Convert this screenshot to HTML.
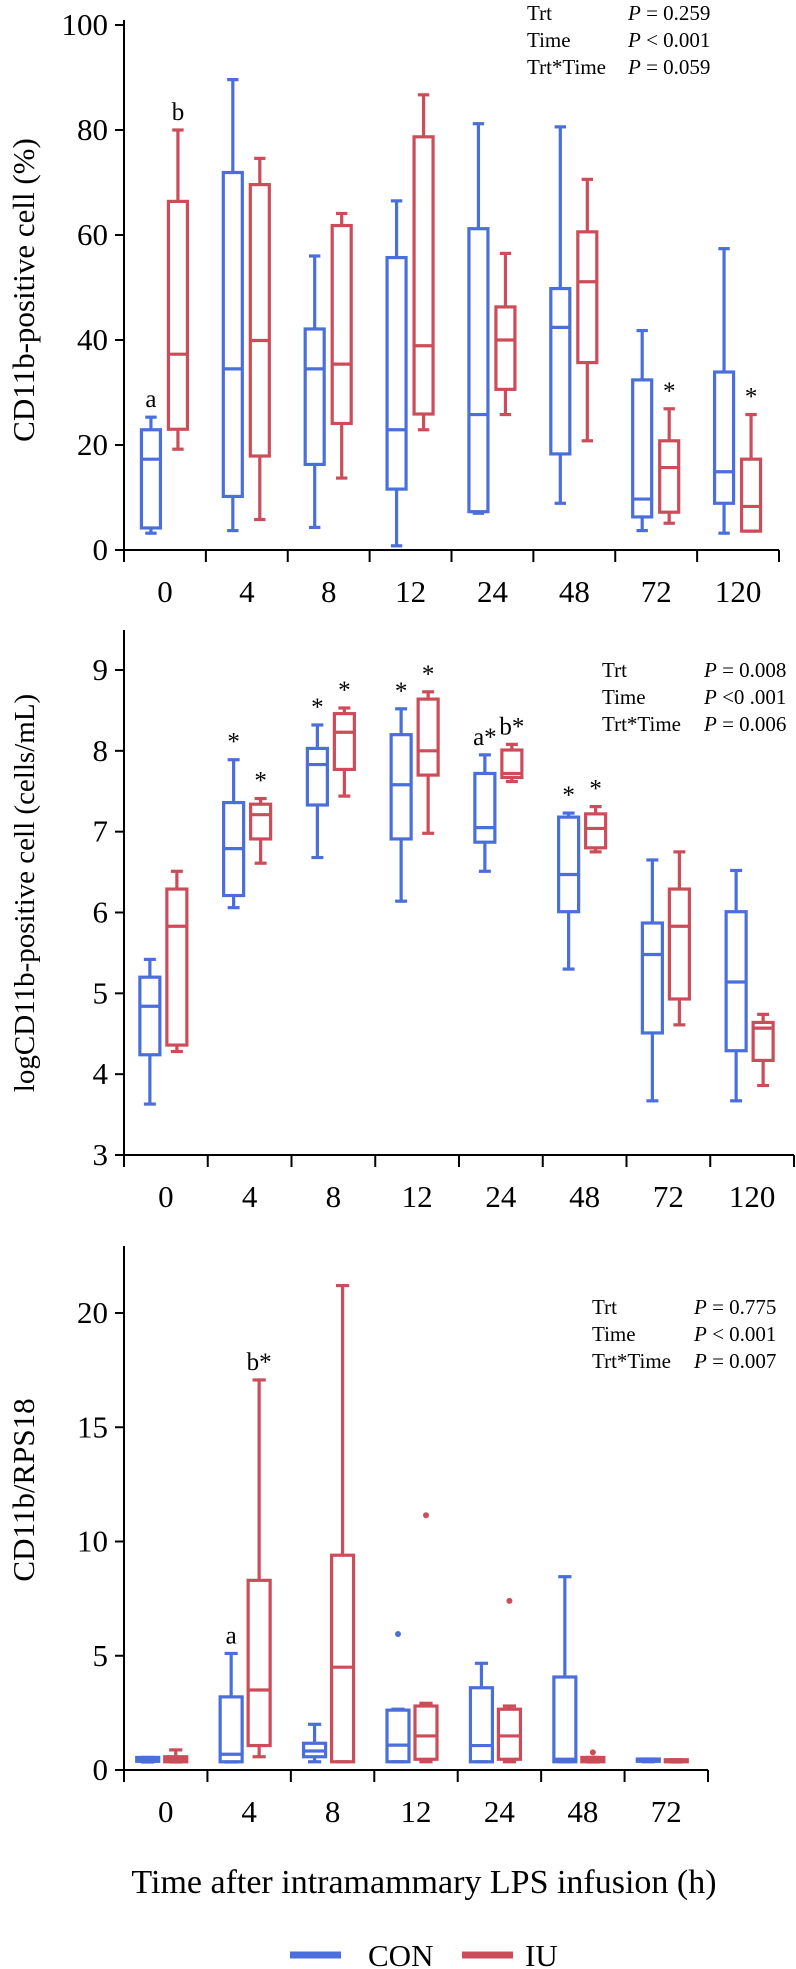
<!DOCTYPE html>
<html><head><meta charset="utf-8">
<style>
html,body{margin:0;padding:0;background:#fff;}
svg{display:block;font-family:"Liberation Serif",serif;}
</style></head>
<body>
<svg id="fig" width="796" height="1969" viewBox="0 0 796 1969" xmlns="http://www.w3.org/2000/svg"></svg>
<script>
// ---------- DATA ----------
const categories1 = ["0","4","8","12","24","48","72","120"];
const yTicks1 = [0,20,40,60,80,100];
// [min, q1, median, q3, max]
const con1 = [[3.2,4.2,17.3,22.9,25.3],[3.7,10.2,34.5,71.9,89.6],[4.3,16.3,34.5,42.1,56],[0.8,11.6,22.9,55.7,66.5],[7.0,7.3,25.8,61.2,81.2],[8.9,18.3,42.4,49.8,80.6],[3.7,6.3,9.7,32.4,41.8],[3.2,8.9,14.9,33.9,57.4]];
const iu1 = [[19.2,23,37.3,66.4,80],[5.8,17.9,39.9,69.6,74.6],[13.7,24.1,35.4,61.8,64.1],[22.9,25.9,38.9,78.7,86.7],[25.8,30.6,40,46.3,56.5],[20.8,35.7,51.1,60.6,70.6],[5.1,7.2,15.7,20.8,26.9],[3.6,3.6,8.3,17.3,25.8]];
const conLabels1 = ["a","","","","","","",""];
const iuLabels1 = ["b","","","","","","*","*"];
const stats1 = [["Trt","P = 0.259"],["Time","P < 0.001"],["Trt*Time","P = 0.059"]];

const categories2 = ["0","4","8","12","24","48","72","120"];
const yTicks2 = [3,4,5,6,7,8,9];
const con2 = [[3.63,4.24,4.84,5.20,5.42],[6.06,6.21,6.79,7.36,7.89],[6.68,7.33,7.83,8.03,8.32],[6.14,6.91,7.58,8.20,8.52],[6.51,6.87,7.05,7.72,7.95],[5.30,6.01,6.47,7.18,7.23],[3.67,4.51,5.48,5.87,6.65],[3.67,4.29,5.14,6.01,6.52]];
const iu2 = [[4.28,4.36,5.83,6.29,6.51],[6.61,6.91,7.21,7.34,7.41],[7.44,7.77,8.23,8.46,8.53],[6.98,7.70,8.0,8.64,8.73],[7.62,7.67,7.72,8.01,8.08],[6.75,6.80,7.04,7.22,7.31],[4.61,4.93,5.83,6.29,6.75],[3.86,4.17,4.57,4.64,4.74]];
const conLabels2 = ["","*","*","*","a*","*","",""];
const iuLabels2 = ["","*","*","*","b*","*","",""];
const stats2 = [["Trt","P = 0.008"],["Time","P <0 .001"],["Trt*Time","P = 0.006"]];

const categories3 = ["0","4","8","12","24","48","72"];
const yTicks3 = [0,5,10,15,20];
const con3 = [[0.35,0.38,0.45,0.55,0.55],[0.35,0.36,0.69,3.2,5.1],[0.36,0.58,0.83,1.17,2.0],[0.36,0.36,1.09,2.62,2.66],[0.36,0.36,1.07,3.6,4.67],[0.36,0.36,0.47,4.07,8.46],[0.36,0.38,0.42,0.48,0.48]];
const iu3 = [[0.35,0.36,0.47,0.58,0.88],[0.58,1.07,3.5,8.3,17.07],[0.36,0.36,4.5,9.4,21.2],[0.36,0.47,1.49,2.8,2.92],[0.36,0.47,1.49,2.66,2.8],[0.35,0.36,0.45,0.55,0.55],[0.35,0.36,0.4,0.45,0.45]];
const conOut3 = [[],[],[],[5.95],[],[],[]];
const iuOut3 = [[],[],[],[11.15],[7.4],[0.77],[]];
const conLabels3 = ["","a","","","","","",""];
const iuLabels3 = ["","b*","","","","","",""];
const stats3 = [["Trt","P = 0.775"],["Time","P < 0.001"],["Trt*Time","P = 0.007"]];

// ---------- DRAW ----------
const NS = "http://www.w3.org/2000/svg";
const svg = document.getElementById("fig");
const BLUE = "#4a6fdc", RED = "#cc4d59";
function mk(tag, attrs, parent){
  const e = document.createElementNS(NS, tag);
  for (const k in attrs) e.setAttribute(k, attrs[k]);
  (parent||svg).appendChild(e);
  return e;
}
function txt(s, attrs, parent){ const e = mk("text", attrs, parent); e.textContent = s; return e; }

function panel(cfg){
  const g = mk("g", {});
  
  
  const n = cfg.cats.length;
  const cw = (cfg.x1 - cfg.x0) / n;
  const yScale = v => cfg.yb - (v - cfg.ymin) * (cfg.yb - cfg.yt) / (cfg.ymax - cfg.ymin);
  const xCenter = i => cfg.x0 + cw * (i + 0.5);
  // axes
  const ya = mk("line", {x1:cfg.x0, y1:cfg.axTop, x2:cfg.x0, y2:cfg.yb, stroke:"#000","stroke-width":2}, g);
  
  
  const xa = mk("line", {x1:cfg.x0-9, y1:cfg.yb, x2:cfg.x1, y2:cfg.yb, stroke:"#000","stroke-width":2}, g);
  
  
  cfg.yticks.forEach(t => {
    const y = yScale(t);
    mk("line", {x1:cfg.x0-9, y1:y, x2:cfg.x0, y2:y, stroke:"#000","stroke-width":2}, g);
    const l = txt(String(t), {x:cfg.x0-16, y:y+10, "font-size":31, "text-anchor":"end", fill:"#000"}, g);
    
    
  });
  for (let i = 0; i <= n; i++){
    const x = cfg.x0 + cw*i;
    mk("line", {x1:x, y1:cfg.yb, x2:x, y2:cfg.yb+12, stroke:"#000","stroke-width":2}, g);
  }
  cfg.cats.forEach((c,i) => {
    const l = txt(c, {x:xCenter(i), y:cfg.yb+52, "font-size":31, "text-anchor":"middle", fill:"#000"}, g);
    
    
  });
  // y title
  const yt = txt(cfg.ytitle, {x:0, y:0, "font-size":cfg.ytSize||31, "text-anchor":"middle", fill:"#000",
    transform:`translate(${cfg.ytx},${cfg.yty}) rotate(-90)`}, g);
  
  
  // boxes
  function box(d, xc, color, name){
    const bw = cfg.bw, cap = cfg.bw*0.6;
    const bg = mk("g", {stroke:color, "stroke-width":3.2, fill:"none"}, g);
    
    
    const [mn,q1,md,q3,mx] = d.map(yScale);
    mk("line", {x1:xc, y1:mx, x2:xc, y2:q3}, bg);
    mk("line", {x1:xc, y1:q1, x2:xc, y2:mn}, bg);
    mk("line", {x1:xc-cap/2, y1:mx, x2:xc+cap/2, y2:mx}, bg);
    mk("line", {x1:xc-cap/2, y1:mn, x2:xc+cap/2, y2:mn}, bg);
    mk("rect", {x:xc-bw/2, y:q3, width:bw, height:Math.max(q1-q3,0.1)}, bg);
    mk("line", {x1:xc-bw/2, y1:md, x2:xc+bw/2, y2:md}, bg);
  }
  cfg.con.forEach((d,i) => box(d, xCenter(i)+cfg.offC, BLUE, "con-box-"+cfg.cats[i]+"h"));
  cfg.iu.forEach((d,i) => box(d, xCenter(i)+cfg.offI, RED, "iu-box-"+cfg.cats[i]+"h"));
  if (cfg.conOut) cfg.conOut.forEach((arr,i) => arr.forEach(v => {
    const c = mk("circle", {cx:xCenter(i)+cfg.offC, cy:yScale(v), r:3, fill:BLUE}, g);
    
    
  }));
  if (cfg.iuOut) cfg.iuOut.forEach((arr,i) => arr.forEach(v => {
    const c = mk("circle", {cx:xCenter(i)+cfg.offI, cy:yScale(v), r:3, fill:RED}, g);
    
    
  }));
  // annotations
  function ann(labels, data, off){
    labels.forEach((s,i) => {
      if (!s || !data[i]) return;
      const t = txt(s, {x:xCenter(i)+off, y:yScale(data[i][4])-10, "font-size":25, "text-anchor":"middle", fill:"#000"}, g);
      
      
    });
  }
  ann(cfg.conLabels, cfg.con, cfg.offC);
  ann(cfg.iuLabels, cfg.iu, cfg.offI);
  // stats
  cfg.stats.forEach((r,k) => {
    const y = cfg.sy + k*27;
    const a = txt(r[0], {x:cfg.sx, y:y, "font-size":21, fill:"#000"}, g);
    
    
    const b = mk("text", {x:cfg.px, y:y, "font-size":21, fill:"#000"}, g);
    
    
    const it = mk("tspan", {"font-style":"italic"}, b); it.textContent = "P";
    const rest = mk("tspan", {}, b); rest.textContent = r[1].slice(1);
  });
}

panel({name:"panel-cd11b-percent", cats:categories1, x0:124, x1:779, yb:550, yt:25, axTop:20, ymin:0, ymax:100,
  yticks:yTicks1, con:con1, iu:iu1, conLabels:conLabels1, iuLabels:iuLabels1, bw:19, offC:-14, offI:13,
  ytitle:"CD11b-positive cell (%)", ytx:34, yty:290, stats:stats1, sx:527, px:628, sy:20});
panel({name:"panel-log-cd11b", cats:categories2, x0:124, x1:794, yb:1155, yt:670, axTop:630, ymin:3, ymax:9,
  yticks:yTicks2, con:con2, iu:iu2, conLabels:conLabels2, iuLabels:iuLabels2, bw:20, offC:-16, offI:11,
  ytitle:"logCD11b-positive cell (cells/mL)", ytSize:29, ytx:34, yty:893, stats:stats2, sx:602, px:704, sy:677});
panel({name:"panel-cd11b-rps18", cats:categories3, x0:124, x1:708, yb:1770, yt:1313, axTop:1246, ymin:0, ymax:20,
  yticks:yTicks3, con:con3, iu:iu3, conOut:conOut3, iuOut:iuOut3, conLabels:conLabels3, iuLabels:iuLabels3, bw:22, offC:-18, offI:10,
  ytitle:"CD11b/RPS18", ytx:34, yty:1490, stats:stats3, sx:592, px:694, sy:1314});

// x title
const xt = txt("Time after intramammary LPS infusion (h)", {x:424, y:1893, "font-size":34, "text-anchor":"middle", fill:"#000"});


// legend
const lg = mk("g", {});


const l1 = mk("line", {x1:290, y1:1955, x2:341, y2:1955, stroke:BLUE, "stroke-width":7}, lg);


const t1 = txt("CON", {x:368, y:1966, "font-size":31, fill:"#000"}, lg);


const l2 = mk("line", {x1:462, y1:1955, x2:513, y2:1955, stroke:RED, "stroke-width":7}, lg);


const t2 = txt("IU", {x:525, y:1966, "font-size":31, fill:"#000"}, lg);


</script>
</body></html>
